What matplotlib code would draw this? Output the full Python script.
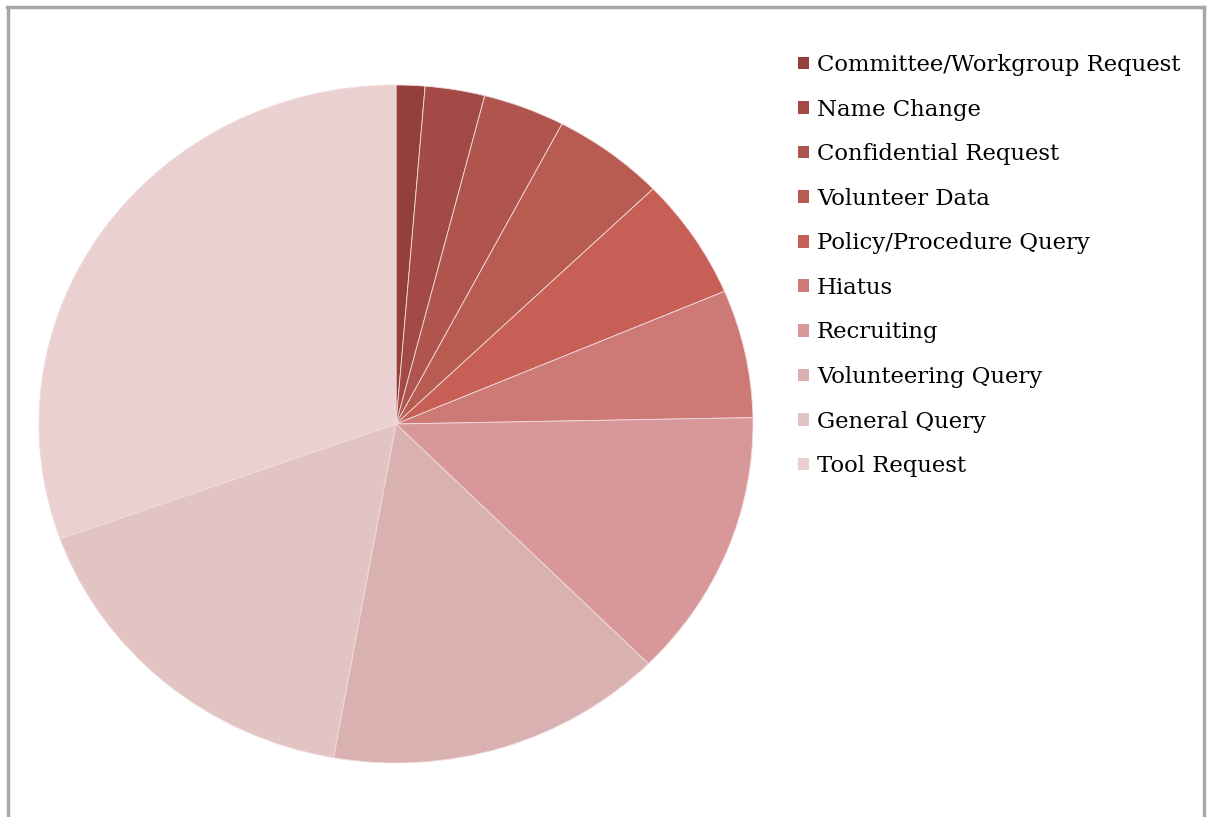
import matplotlib
matplotlib.use('Agg')
import matplotlib.pyplot as plt
from matplotlib.lines import Line2D

# share of each request type (percent)
categories = ['Committee/Workgroup Request', 'Name Change', 'Confidential Request',
              'Volunteer Data', 'Policy/Procedure Query', 'Hiatus', 'Recruiting',
              'Volunteering Query', 'General Query', 'Tool Request']
shares = [1.3, 2.7, 3.7, 5.1, 5.8, 6.1, 12.8, 15.3, 16.7, 30.5]
colors = ['#94403a', '#a34a46', '#b0554d', '#b85b51', '#c75f56', '#cd7975',
          '#d89899', '#d9b1b0', '#e2c5c3', '#ebd0d1']

W, H = 1208, 817
fig = plt.figure(figsize=(W / 100, H / 100), dpi=100)

# grey frame (top, left, right)
fig.add_artist(Line2D([7 / W, 1204 / W], [1 - 7 / H, 1 - 7 / H], color='#a8a8a8', lw=2.5))
fig.add_artist(Line2D([8 / W, 8 / W], [0, 1 - 7 / H], color='#a8a8a8', lw=2.5))
fig.add_artist(Line2D([1204 / W, 1204 / W], [0, 1 - 7 / H], color='#a8a8a8', lw=2.5))

# pie is a bit wider than tall in the original
ax = fig.add_axes([39 / W, (H - 763) / H, 714 / W, 678 / H])
wedges, _ = ax.pie(shares, colors=colors, startangle=90, counterclock=False,
                   wedgeprops=dict(edgecolor='#f0dcdc', linewidth=0.6))
ax.set_aspect('auto')
ax.set_xlim(-1, 1)
ax.set_ylim(-1, 1)
ax.axis('off')

leg = fig.legend(wedges, categories, loc='upper left',
                 bbox_to_anchor=(789 / W, 1 - 45 / H), frameon=False,
                 prop={'family': 'DejaVu Serif', 'size': 16.4},
                 handlelength=0.48, handleheight=0.48, handletextpad=0.36,
                 labelspacing=0.99, borderaxespad=0)
for h in leg.legend_handles:
    h.set_edgecolor('none')

fig.savefig('out.png', dpi=100)
